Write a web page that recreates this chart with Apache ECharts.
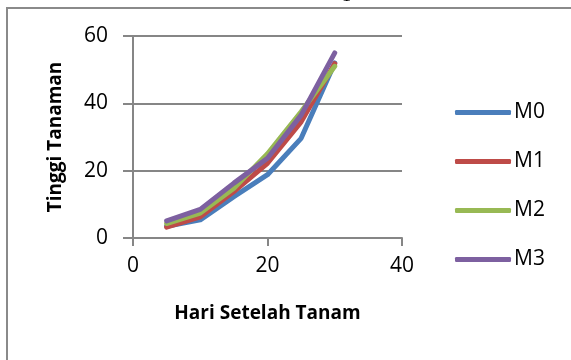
<!DOCTYPE html>
<html>
<head>
<meta charset="utf-8">
<script src="https://cdn.jsdelivr.net/npm/echarts@6/dist/echarts.min.js"></script>
<style>html,body{margin:0;padding:0;background:#fff}#c{width:571px;height:360px}</style>
</head>
<body>
<div id="c"></div>
<script>
var days = [5, 10, 15, 20, 25, 30];
var seriesNames = ['M0', 'M1', 'M2', 'M3'];
var m0 = [3.5, 5.4, 12.3, 18.8, 29.6, 52.0];
var m1 = [3.2, 6.3, 13.8, 22.2, 34.5, 51.8];
var m2 = [4.3, 7.4, 14.8, 25.0, 37.5, 51.0];
var m3 = [5.1, 8.5, 16.3, 23.7, 36.5, 55.0];
var xTicks = [0, 20, 40];
var yTicks = [0, 20, 40, 60];
var colors = ['#4A7EBB', '#BE4B48', '#98B954', '#7D60A0'];

var allData = [m0, m1, m2, m3];
var chart = echarts.init(document.getElementById('c'), null, {renderer: 'canvas'});
var font = 'Open Sans, Liberation Sans, sans-serif';
chart.setOption({
  animation: false,
  color: colors,
  graphic: [
    {type: 'rect', shape: {x: 7, y: 8, width: 700, height: 500}, style: {fill: 'none', stroke: '#8a8a8a', lineWidth: 2}},
    {type: 'text', x: 342, y: -13, style: {text: '1', font: '18px Liberation Serif', fill: '#000'}}
  ],
  grid: {left: 133, right: 169, top: 36, bottom: 122, containLabel: false},
  legend: {
    orient: 'vertical', left: 450, top: 97,
    itemWidth: 56, itemHeight: 5, itemGap: 28,
    icon: 'roundRect',
    textStyle: {fontFamily: font, fontSize: 21, color: '#000', lineHeight: 20, padding: [0, 0, 0, -2]},
    data: seriesNames
  },
  xAxis: {
    type: 'value', min: 0, max: 40, interval: 20,
    name: 'Hari Setelah Tanam', nameLocation: 'middle', nameGap: 66,
    nameTextStyle: {fontFamily: font, fontSize: 19, fontWeight: 'bold', color: '#000'},
    axisLine: {show: true, lineStyle: {color: '#868686', width: 2}},
    axisTick: {show: true, length: 8, lineStyle: {color: '#868686', width: 2}},
    axisLabel: {fontFamily: font, fontSize: 21, color: '#000', margin: 18, formatter: function(v){return xTicks.indexOf(v) >= 0 ? String(v) : '';}},
    splitLine: {show: false}
  },
  yAxis: {
    type: 'value', min: 0, max: 60, interval: 20,
    name: 'Tinggi Tanaman', nameLocation: 'middle', nameGap: 68, nameRotate: 90,
    nameTextStyle: {fontFamily: font, fontSize: 19, fontWeight: 'bold', color: '#000'},
    axisLine: {show: true, lineStyle: {color: '#868686', width: 2}},
    axisTick: {show: true, length: 10, lineStyle: {color: '#868686', width: 2}},
    axisLabel: {fontFamily: font, fontSize: 21, color: '#000', margin: 25, formatter: function(v){return yTicks.indexOf(v) >= 0 ? String(v) : '';}},
    splitLine: {show: true, lineStyle: {color: '#868686', width: 2}}
  },
  series: seriesNames.map(function(n, i){
    return {
      name: n, type: 'line', symbol: 'none',
      data: days.map(function(d, j){return [d, allData[i][j]];}),
      lineStyle: {width: 5, color: colors[i], cap: 'round', join: 'round'},
      itemStyle: {color: colors[i]}
    };
  })
});
</script>
</body>
</html>
